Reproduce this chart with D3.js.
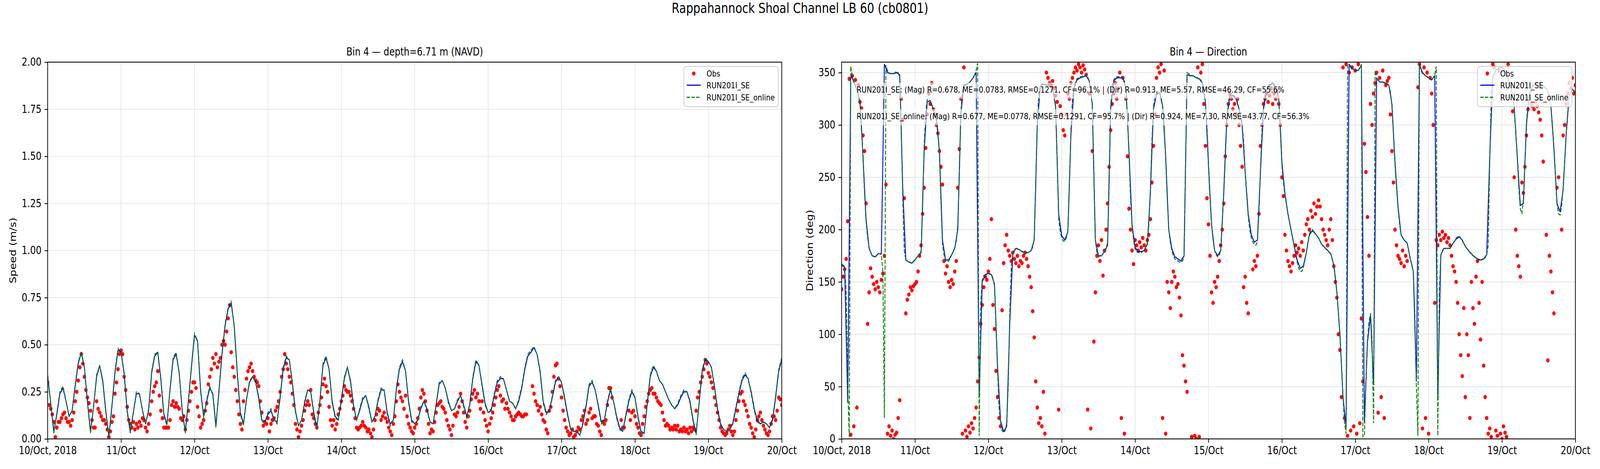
<!DOCTYPE html>
<html lang="en">
<head>
<meta charset="UTF-8" />
<title>Rappahannock Shoal Channel LB 60 (cb0801)</title>
<script src="https://d3js.org/d3.v7.min.js"></script>
<style>
  html, body { margin: 0; padding: 0; background: #fff; overflow: hidden; }
  svg { display: block; width: 100vw; height: 100vh; font-family: "DejaVu Sans", sans-serif; }
  .tick text { font-family: "DejaVu Sans", sans-serif; font-size: 27.8px; fill: #000; }
  .tick line { stroke: #000; stroke-width: 2.2; }
  .grid line { stroke: #e6e6e6; stroke-width: 2.2; }
</style>
</head>
<body>
<svg viewBox="0 0 5000 1200" preserveAspectRatio="none"></svg>
<script>
// tick labels
const dayLabels = ["10/Oct, 2018", "11/Oct", "12/Oct", "13/Oct", "14/Oct", "15/Oct",
  "16/Oct", "17/Oct", "18/Oct", "19/Oct", "20/Oct"];
const speedTicks = [0, 0.25, 0.5, 0.75, 1.0, 1.25, 1.5, 1.75, 2.0];
const dirTicks = [0, 50, 100, 150, 200, 250, 300, 350];

// speed (m/s), model hourly from 10/Oct 00:00
const spdSE = [
  .33,.19,.04,.13,.24,.27,.20,.12,.15,.28,.40,.46,
  .38,.20,.04,.17,.33,.39,.31,.15,.01,.17,.35,.47,
  .46,.35,.15,.04,.14,.24,.24,.15,.08,.15,.35,.44,
  .46,.32,.13,.08,.26,.42,.45,.35,.15,.04,.20,.38,
  .55,.52,.26,.12,.20,.27,.24,.07,.25,.45,.60,.69,
  .72,.60,.35,.14,.08,.21,.30,.33,.30,.22,.10,.09,
  .13,.15,.10,.09,.22,.37,.43,.42,.30,.15,.07,.10,
  .19,.26,.25,.14,.06,.20,.39,.43,.37,.20,.12,.10,
  .20,.32,.38,.31,.18,.10,.15,.21,.23,.17,.09,.12,
  .20,.26,.26,.14,.08,.10,.26,.37,.41,.36,.20,.10,
  .08,.10,.16,.20,.16,.09,.08,.18,.29,.31,.27,.20,
  .15,.16,.20,.23,.18,.12,.18,.32,.41,.39,.29,.19,
  .14,.15,.23,.30,.32,.32,.26,.20,.19,.16,.20,.27,
  .37,.44,.46,.485,.45,.36,.20,.14,.15,.22,.30,.33,
  .30,.22,.13,.05,.04,.04,.02,.08,.17,.28,.30,.26,
  .18,.09,.10,.19,.26,.20,.12,.06,.04,.12,.20,.25,
  .22,.12,.04,.03,.18,.33,.38,.36,.31,.29,.25,.21,
  .18,.16,.18,.22,.25,.25,.20,.10,.03,.19,.36,.42,
  .41,.38,.28,.16,.08,.05,.04,.05,.08,.16,.24,.31,
  .34,.32,.25,.16,.10,.08,.09,.08,.06,.10,.22,.36,
  .42
];
const spdOnline = [
  .34,.19,.03,.14,.25,.28,.20,.12,.15,.29,.41,.46,
  .38,.19,.03,.17,.34,.39,.30,.14,.01,.18,.36,.48,
  .46,.34,.14,.03,.14,.25,.24,.15,.08,.16,.36,.45,
  .46,.31,.12,.07,.27,.43,.46,.35,.14,.03,.20,.39,
  .56,.52,.25,.11,.21,.28,.23,.06,.26,.46,.61,.70,
  .73,.59,.34,.13,.07,.21,.31,.33,.30,.21,.09,.09,
  .14,.16,.10,.08,.23,.38,.44,.42,.29,.14,.07,.10,
  .20,.26,.25,.13,.05,.21,.40,.44,.37,.19,.11,.10,
  .21,.33,.38,.30,.17,.10,.16,.22,.23,.16,.09,.12,
  .21,.27,.26,.13,.07,.10,.27,.38,.42,.36,.19,.09,
  .08,.10,.17,.20,.15,.09,.08,.19,.30,.31,.27,.19,
  .15,.16,.21,.23,.17,.11,.19,.33,.42,.39,.28,.18,
  .14,.16,.24,.31,.33,.32,.26,.20,.19,.16,.21,.28,
  .38,.45,.47,.49,.45,.35,.19,.13,.15,.23,.31,.33,
  .30,.21,.12,.05,.04,.04,.02,.09,.18,.29,.31,.26,
  .17,.08,.10,.20,.27,.20,.11,.05,.04,.13,.21,.26,
  .22,.11,.03,.03,.19,.34,.39,.36,.31,.29,.25,.21,
  .18,.16,.19,.23,.26,.25,.19,.09,.02,.20,.37,.43,
  .41,.38,.27,.15,.07,.05,.04,.05,.09,.17,.25,.32,
  .35,.32,.24,.15,.09,.08,.09,.08,.06,.11,.23,.37,
  .43
];
// observed speed, every 30 min
const spdObs = [
  .30,.18,.16,.13,.09,.01,.06,.09,.09,.11,.13,.14,
  .11,.09,.09,.07,.10,.14,.20,.25,.31,.38,.45,.40,
  .33,.26,.22,.19,.15,.10,.06,.06,.20,.16,.14,.12,
  .10,.10,.08,.05,.01,.04,.09,.12,.24,.30,.37,.45,
  .47,.45,.33,.26,.17,.10,.08,.06,.09,.05,.08,.06,
  .09,.07,.11,.10,.06,.04,.08,.13,.20,.25,.28,.30,
  .36,.23,.15,.11,.06,.06,.06,.06,.10,.18,.20,.17,
  .19,.17,.16,.11,.10,.12,.05,.10,.15,.20,.25,.30,
  .30,.27,.17,.12,.06,.08,.10,.15,.19,.29,.33,.37,
  .43,.40,.45,.38,.41,.43,.50,.52,.50,.57,.64,.71,
  .46,.38,.33,.26,.20,.13,.08,.05,.20,.26,.32,.36,
  .38,.40,.36,.33,.31,.30,.28,.20,.14,.07,.09,.08,
  .11,.04,.08,.10,.11,.15,.17,.20,.25,.33,.37,.45,
  .40,.37,.33,.30,.24,.18,.08,.05,.01,.04,.07,.10,
  .15,.18,.20,.18,.26,.13,.11,.08,.06,.14,.18,.22,
  .29,.32,.28,.25,.17,.10,.07,.10,.05,.08,.13,.16,
  .20,.23,.28,.26,.25,.25,.23,.20,.16,.11,.06,.05,
  .06,.07,.09,.07,.06,.04,.05,.03,.01,.05,.10,.13,
  .16,.15,.10,.12,.14,.11,.09,.06,.04,.02,.08,.12,
  .20,.29,.25,.22,.20,.16,.23,.12,.08,.06,.04,.03,
  .06,.08,.11,.16,.22,.26,.24,.20,.15,.08,.03,.05,
  .04,.09,.14,.18,.19,.20,.17,.16,.14,.10,.07,.05,
  .02,.07,.13,.12,.14,.17,.24,.20,.14,.09,.06,.12,
  .15,.21,.24,.26,.22,.24,.20,.16,.20,.14,.10,.07,
  .04,.08,.11,.14,.18,.22,.26,.28,.23,.20,.21,.16,
  .19,.16,.14,.12,.10,.10,.12,.13,.14,.13,.12,.12,
  .13,.13,null,null,null,.28,.24,.20,.18,.15,.17,.13,
  .10,.09,.05,.03,.15,.17,.25,.33,.39,.40,.32,.28,
  .22,.15,.10,.06,.04,.02,.03,.05,.01,.02,.04,.06,
  .05,.10,.12,.15,.08,.10,.14,.16,.11,.12,.12,.08,
  .07,.04,.02,.09,.08,.10,.18,.27,.27,.22,null,null,
  null,null,null,.10,.06,.06,null,null,.15,.10,.14,.15,
  .12,.08,.06,.03,.02,.08,.12,.17,.20,.24,.26,.27,
  .24,.24,.22,.20,.19,.18,.14,.10,.07,.08,.07,.05,
  .06,.05,.07,.05,.07,.04,.05,.04,.06,.04,.05,.03,
  .06,.04,.06,.05,.15,.22,.25,.30,.33,.37,.42,.40,
  .35,.33,.30,.27,.22,.18,.14,.10,.06,.04,.03,.02,
  .03,.05,.07,.04,.02,.04,.10,.15,.20,.24,.25,.20,
  .18,.15,.12,.08,.06,.03,.01,.05,.10,.12,.14,.10,
  .07,.05,.03,.02,.04,.08,.12,.12,.10,.15,.22,.21,
  .18
];

// direction (deg), model RUN201I_SE hourly
const dirSE = [
  166,164,35,348,341,334,322,270,210,182,175,174,
  177,177,358,350,349,349,350,348,240,171,169,168,
  171,175,178,275,322,323,315,306,275,190,171,171,
  176,182,200,310,338,339,341,345,350,40,150,157,
  158,157,148,70,17,7,12,110,177,182,181,179,
  178,178,180,190,300,337,339,338,337,335,318,215,
  194,190,198,290,335,343,345,346,347,342,320,190,
  175,175,179,185,315,342,345,345,345,335,275,205,
  183,179,179,180,186,235,315,329,331,318,270,200,
  182,174,172,170,175,348,347,347,345,344,340,322,
  262,205,180,175,180,235,305,328,328,325,315,300,
  255,215,195,188,190,255,315,333,338,340,336,325,
  265,235,215,200,185,171,163,165,178,195,199,196,
  192,186,183,180,177,166,140,100,40,12,358,354,
  352,352,357,16,92,118,52,345,341,341,340,338,
  320,265,222,195,190,187,172,160,55,358,350,347,
  345,343,347,40,176,182,182,182,187,191,193,190,
  184,180,177,174,172,171,172,176,270,345,352,354,
  355,352,345,335,316,270,223,225,300,330,337,340,
  340,338,336,333,318,278,225,217,238,291,328,334,
  331
];
// direction, model RUN201I_SE_online every 30 min
const dirOnline = [
  167,166,165,140,50,2,356,346,341,337,334,328,
  320,300,268,235,208,192,183,178,175,174,174,175,
  177,177,176,160,20,357,352,350,349,349,349,350,
  351,350,345,300,230,180,171,170,169,168,168,169,
  171,173,175,177,180,220,280,312,324,324,323,320,
  315,310,305,295,272,225,185,176,170,169,170,172,
  176,179,183,188,205,250,312,333,337,338,339,340,
  341,343,345,348,352,359,3,130,152,156,157,158,
  158,158,157,154,145,110,65,30,15,8,6,8,
  15,50,120,165,177,181,182,182,181,180,179,178,
  178,178,178,179,180,183,192,240,305,330,337,339,
  339,339,338,338,337,336,334,328,315,270,210,198,
  192,189,189,192,198,240,295,325,337,341,344,345,
  346,346,347,347,348,346,342,335,318,250,190,178,
  174,174,175,177,179,182,188,240,318,338,343,345,
  346,346,346,346,345,342,333,310,272,230,203,190,
  181,179,178,178,178,179,181,183,188,205,240,285,
  318,327,330,331,331,327,318,300,268,230,200,188,
  180,175,172,171,170,169,169,170,174,260,350,349,
  348,347,347,346,345,345,344,343,340,335,322,300,
  262,230,205,190,180,176,174,175,180,205,238,275,
  308,322,329,330,329,328,325,322,315,308,300,285,
  255,232,212,200,192,188,186,185,188,215,258,295,
  318,328,334,337,339,340,340,339,336,332,324,300,
  262,245,233,224,214,207,199,192,184,176,169,163,
  160,160,163,170,178,187,196,199,200,198,196,194,
  192,189,186,184,183,181,180,178,177,172,165,155,
  140,120,98,70,40,15,5,358,357,355,354,353,
  352,352,352,354,358,2,3,55,95,112,120,95,
  15,352,345,342,341,341,341,340,340,340,338,332,
  318,290,262,240,220,205,195,192,190,189,187,180,
  172,167,160,120,50,3,358,352,349,348,347,346,
  345,344,343,345,348,356,3,140,176,180,182,182,
  182,182,182,184,187,189,192,193,194,192,189,187,
  184,182,180,178,177,175,174,173,172,171,171,171,
  172,173,176,185,265,330,346,350,353,354,355,355,
  355,354,352,349,345,340,335,327,316,295,268,240,
  220,215,228,265,302,320,331,335,338,339,340,340,
  340,339,338,337,336,335,333,328,318,300,276,250,
  224,215,214,222,240,265,292,312,328,332,334,333,
  331
];
// observed direction, every 30 min
const dirObs = [
  143,155,162,172,208,344,4,347,12,343,30,338,
  322,316,290,275,225,110,140,163,155,148,143,150,
  145,140,152,158,175,243,5,12,3,8,0,4,
  6,20,37,325,305,230,120,133,138,145,142,146,
  148,150,160,175,185,215,240,278,310,330,320,340,
  315,310,300,292,275,260,243,170,158,165,150,145,
  152,148,160,170,240,277,325,5,355,8,2,12,
  6,15,10,20,30,55,78,110,128,145,155,152,
  160,172,210,128,105,65,40,20,12,123,168,185,
  195,180,175,170,178,172,168,175,165,170,168,175,
  178,172,165,155,145,122,97,55,30,15,20,12,
  45,5,350,345,340,338,342,335,328,322,28,318,
  310,295,290,310,330,325,340,345,350,355,352,358,
  355,350,357,353,348,28,330,10,275,93,140,175,
  185,170,190,156,180,200,225,260,295,320,330,340,
  325,335,350,20,345,5,325,270,220,200,180,167,
  190,185,180,188,183,192,185,180,190,195,210,245,
  280,310,345,355,350,358,20,352,5,150,140,125,
  150,160,155,145,148,135,118,80,70,55,45,null,
  null,2,null,3,0,355,2,350,358,320,280,230,
  205,175,140,130,150,145,155,170,185,200,225,270,
  300,320,330,325,315,320,310,325,300,280,260,145,
  155,130,120,null,null,162,170,165,175,215,280,300,
  320,325,330,322,328,335,320,330,325,332,320,300,
  250,232,195,180,170,165,160,168,175,185,178,182,
  175,188,180,195,205,210,200,218,212,225,215,222,
  228,222,210,200,195,190,185,200,210,190,165,150,
  135,100,85,40,355,20,358,3,350,8,355,12,
  352,5,358,15,115,55,282,255,212,175,320,300,
  330,340,350,25,345,40,352,20,338,342,345,310,
  275,245,200,185,175,172,168,180,165,175,170,null,
  null,null,null,null,null,336,358,null,10,355,20,350,
  5,345,330,300,130,190,185,195,190,198,192,195,
  188,192,185,175,165,160,150,130,100,80,60,125,
  40,100,80,20,150,125,110,155,170,130,95,150,
  70,40,20,5,10,2,358,355,8,3,352,5,
  0,12,6,2,358,null,null,313,250,200,175,165,
  155,245,235,260,290,315,325,320,318,315,322,318,
  312,305,290,265,null,195,75,175,160,140,120,null,
  240,250,null,200,290,300,320,330,340,335,345,330,
  338
];

const seriesNames = ["Obs", "RUN201I_SE", "RUN201I_SE_online"];
const statsText = [
  "RUN201I_SE: (Mag) R=0.678, ME=0.0783, RMSE=0.1271, CF=96.1% | (Dir) R=0.913, ME=5.57, RMSE=46.29, CF=55.6%",
  "RUN201I_SE_online: (Mag) R=0.677, ME=0.0778, RMSE=0.1291, CF=95.7% | (Dir) R=0.924, ME=7.30, RMSE=43.77, CF=56.3%"
];

const svg = d3.select("svg");
svg.append("rect").attr("width", 5000).attr("height", 1200).attr("fill", "#fff");

const t0 = Date.UTC(2018, 9, 10);
const atHour = (h) => new Date(t0 + h * 3600e3);
const toSeries = (vals, step) =>
  vals.map((v, i) => ({t: atHour(i * step), v})).filter((d) => d.v !== null);
const dayDates = dayLabels.map((_, i) => atHour(i * 24));

const axTop = 159, axBottom = 1123;

svg.append("text")
  .attr("x", 2500).attr("y", 33)
  .attr("text-anchor", "middle")
  .attr("font-size", 35)
  .text("Rappahannock Shoal Channel LB 60 (cb0801)");

function drawPanel(p) {
  const x = d3.scaleUtc().domain([atHour(0), atHour(240)]).range([p.left, p.right]);
  const y = d3.scaleLinear().domain(p.yDomain).range([axBottom, axTop]);
  const g = svg.append("g");

  svg.append("clipPath").attr("id", p.id)
    .append("rect")
    .attr("x", p.left).attr("y", axTop)
    .attr("width", p.right - p.left).attr("height", axBottom - axTop);

  // grid
  const grid = g.append("g").attr("class", "grid");
  grid.selectAll(".gx").data(dayDates).join("line")
    .attr("x1", (d) => x(d)).attr("x2", (d) => x(d))
    .attr("y1", axTop).attr("y2", axBottom);
  grid.selectAll(".gy").data(p.yTicks).join("line")
    .attr("x1", p.left).attr("x2", p.right)
    .attr("y1", (d) => y(d)).attr("y2", (d) => y(d));

  const plot = g.append("g").attr("clip-path", `url(#${p.id})`);

  plot.selectAll("circle").data(toSeries(p.obs, 0.5)).join("circle")
    .attr("cx", (d) => x(d.t)).attr("cy", (d) => y(d.v))
    .attr("r", 5.3).attr("fill", "#ff0000");

  const line = d3.line().x((d) => x(d.t)).y((d) => y(d.v));

  plot.append("path").datum(toSeries(p.se, 1))
    .attr("fill", "none").attr("stroke", "#0000ff")
    .attr("stroke-width", 2.8).attr("stroke-linejoin", "round")
    .attr("d", line);

  plot.append("path").datum(toSeries(p.online, p.onlineStep))
    .attr("fill", "none").attr("stroke", "#008000")
    .attr("stroke-width", 2.8).attr("stroke-dasharray", "10.3,4.4")
    .attr("d", line);

  // spines
  g.append("rect")
    .attr("x", p.left).attr("y", axTop)
    .attr("width", p.right - p.left).attr("height", axBottom - axTop)
    .attr("fill", "none").attr("stroke", "#000").attr("stroke-width", 2.2);

  // axes
  g.append("g")
    .attr("transform", `translate(0,${axBottom})`)
    .call(d3.axisBottom(x).tickValues(dayDates).tickFormat((d, i) => dayLabels[i])
      .tickSize(9.7).tickPadding(9.7).tickSizeOuter(0))
    .call((a) => a.select(".domain").remove());

  g.append("g")
    .attr("transform", `translate(${p.left},0)`)
    .call(d3.axisLeft(y).tickValues(p.yTicks).tickFormat(p.yFmt)
      .tickSize(9.7).tickPadding(9.7).tickSizeOuter(0))
    .call((a) => a.select(".domain").remove());

  g.append("text")
    .attr("transform", `translate(${p.labelX},${(axTop + axBottom) / 2}) rotate(-90)`)
    .attr("text-anchor", "middle").attr("font-size", 27.8)
    .text(p.yLabel);

  g.append("text")
    .attr("x", (p.left + p.right) / 2).attr("y", 142)
    .attr("text-anchor", "middle").attr("font-size", 27.8)
    .text(p.title);

  // stats annotations
  if (p.stats) {
    [237, 305].forEach((by, i) => {
      const t = g.append("text")
        .attr("x", p.left + 47).attr("y", by)
        .attr("font-size", 22).text(statsText[i]);
      const bb = t.node().getBBox();
      g.insert("rect", () => t.node())
        .attr("x", bb.x - 9).attr("y", bb.y - 5)
        .attr("width", bb.width + 18).attr("height", bb.height + 15)
        .attr("fill", "#fff").attr("fill-opacity", 0.6);
    });
  }

  // legend
  const lx = p.right - 306, ly = axTop + 11;
  const lg = g.append("g");
  lg.append("rect")
    .attr("x", lx).attr("y", ly).attr("width", 295).attr("height", 103)
    .attr("rx", 7).attr("fill", "#fff").attr("fill-opacity", 0.8)
    .attr("stroke", "#cccccc").attr("stroke-width", 2.2);
  const rows = [ly + 18, ly + 48, ly + 79];
  lg.append("circle").attr("cx", lx + 31).attr("cy", rows[0]).attr("r", 5.3).attr("fill", "#ff0000");
  lg.append("line").attr("x1", lx + 9).attr("x2", lx + 53).attr("y1", rows[1]).attr("y2", rows[1])
    .attr("stroke", "#0000ff").attr("stroke-width", 2.8);
  lg.append("line").attr("x1", lx + 9).attr("x2", lx + 53).attr("y1", rows[2]).attr("y2", rows[2])
    .attr("stroke", "#008000").attr("stroke-width", 2.8).attr("stroke-dasharray", "10.3,4.4");
  lg.selectAll(".lt").data(seriesNames).join("text")
    .attr("x", lx + 71).attr("y", (d, i) => rows[i] + 8)
    .attr("font-size", 22).text((d) => d);
}

drawPanel({
  id: "clipSpeed", left: 149, right: 2443,
  yDomain: [0, 2], yTicks: speedTicks, yFmt: d3.format(".2f"),
  yLabel: "Speed (m/s)", labelX: 50,
  title: "Bin 4 \u2014 depth=6.71 m (NAVD)",
  obs: spdObs, se: spdSE, online: spdOnline, onlineStep: 1, stats: false
});

drawPanel({
  id: "clipDir", left: 2630, right: 4923,
  yDomain: [0, 360], yTicks: dirTicks, yFmt: d3.format("d"),
  yLabel: "Direction (deg)", labelX: 2540,
  title: "Bin 4 \u2014 Direction",
  obs: dirObs, se: dirSE, online: dirOnline, onlineStep: 0.5, stats: true
});
</script>
</body>
</html>
